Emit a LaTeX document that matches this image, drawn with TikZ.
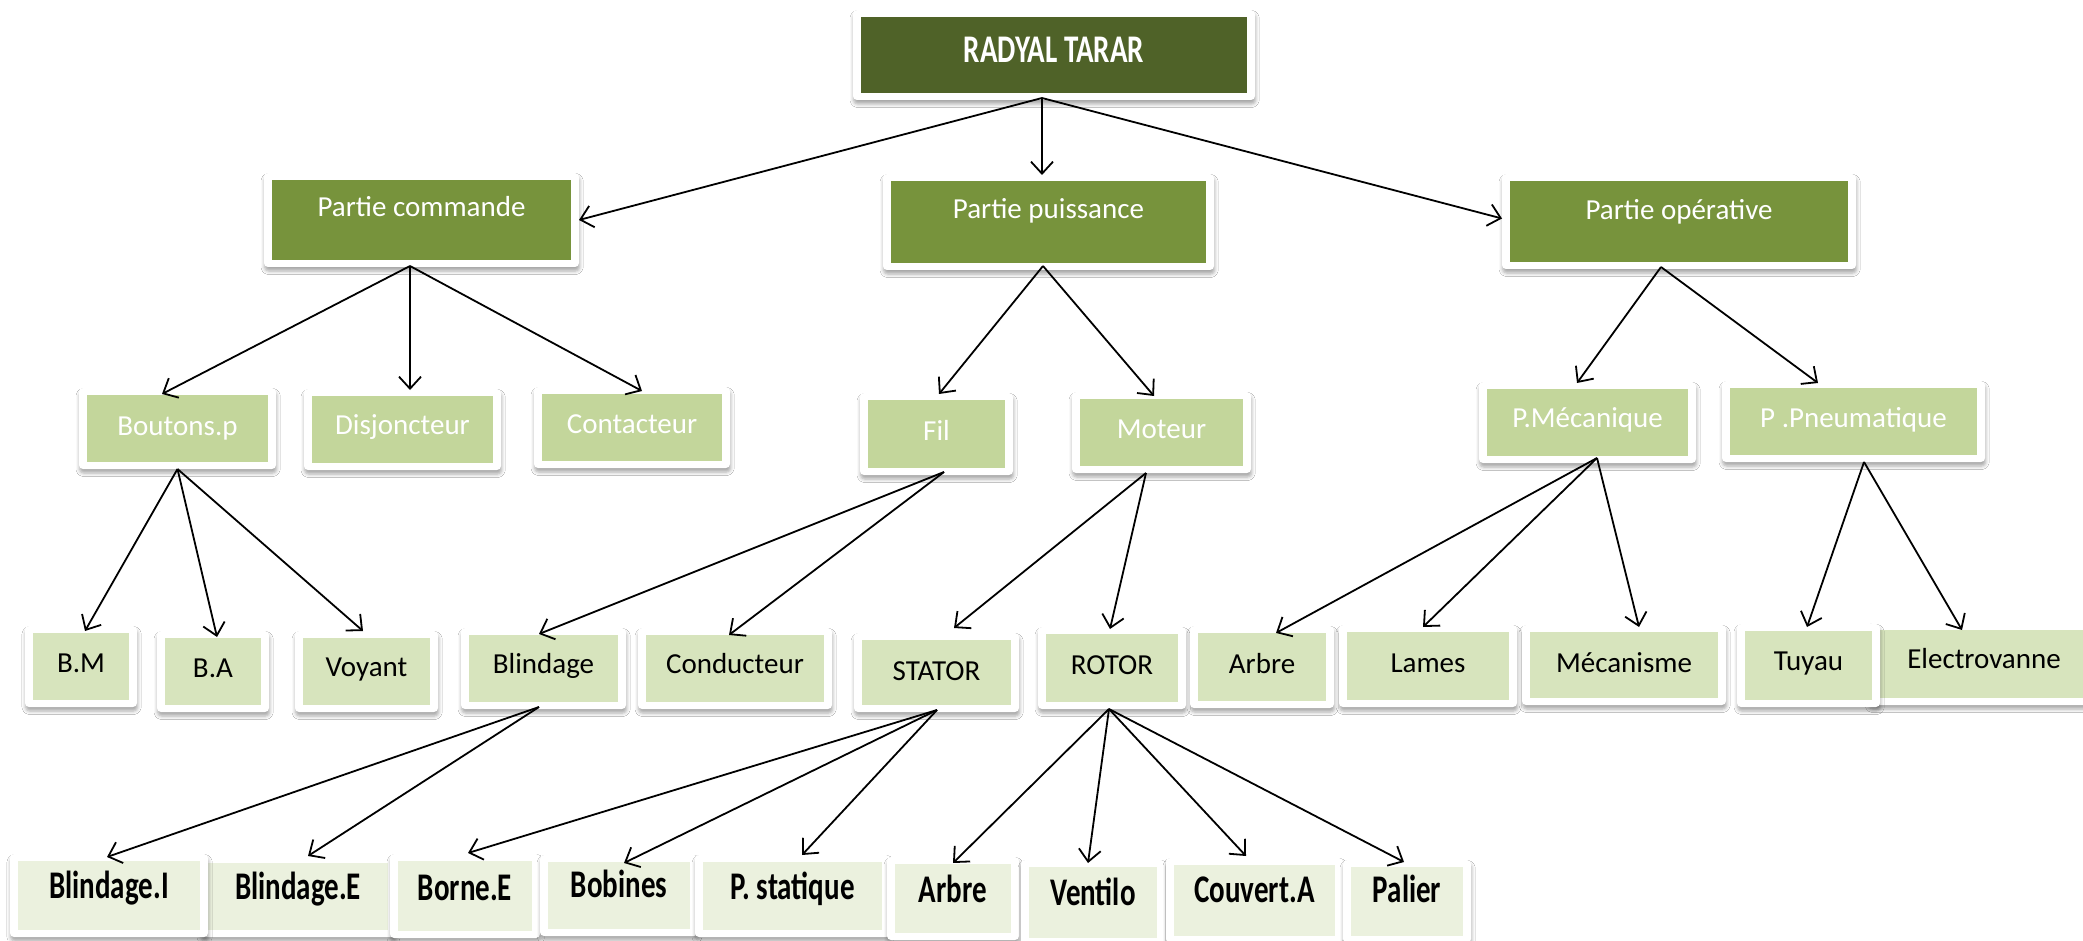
\documentclass[tikz,border=0pt]{standalone}
\usepackage{fontspec}
\setmainfont{Carlito}
\usepackage{graphicx}
\usetikzlibrary{arrows.meta,calc,shadows.blur}

\definecolor{gRoot}{HTML}{4F6228}
\definecolor{gOne}{HTML}{77933C}
\definecolor{gTwo}{HTML}{C3D69B}
\definecolor{gThree}{HTML}{D7E4BD}
\definecolor{gFour}{HTML}{EBF1DE}

% bold labels are set tall and narrow
\newcommand\tallbf[1]{\scalebox{1}[1.35]{\bfseries #1}}
\newcommand\lblfont{\fontsize{14.5}{17}\selectfont}

\tikzset{
  outerbox/.style={fill=white, rounded corners=2pt, inner sep=0pt, outer sep=0pt,
    blur shadow={shadow xshift=0.3pt, shadow yshift=-2pt, shadow blur radius=1.8pt, shadow opacity=35}},
  lvl0/.style={fill=gRoot},   lvl0 text/.style={text=white, font=\lblfont, inner sep=0pt},
  lvl1/.style={fill=gOne},    lvl1 text/.style={text=white, font=\lblfont, inner sep=0pt},
  lvl2/.style={fill=gTwo},    lvl2 text/.style={text=white, font=\lblfont, inner sep=0pt},
  lvl3/.style={fill=gThree},  lvl3 text/.style={text=black, font=\lblfont, inner sep=0pt},
  lvl4/.style={fill=gFour},   lvl4 text/.style={text=black, font=\lblfont, inner sep=0pt},
  arr/.style={-{Straight Barb[length=6pt,width=11pt]}, line width=0.9pt, black},
}

% #1 name, #2,#3 top-left corner, #4,#5 bottom-right corner, #6 level, #7 baseline, #8 label
\newcommand\gbox[8]{%
  \node[outerbox, minimum width={(#4-#2)*0.5pt}, minimum height={(#5-#3)*0.5pt}]
    (#1) at ({(#2+#4)/2},{(#3+#5)/2}) {};
  \fill[#6] ($(#1.north west)+(8,7)$) rectangle ($(#1.south east)+(-8,-7)$);
  \node[#6 text, anchor=base] at ({(#2+#4)/2},#7) {#8};
}

\begin{document}
\begin{tikzpicture}[x=0.5pt,y=-0.5pt]
\useasboundingbox (0,0) rectangle (2083,941);
\clip (0,0) rectangle (2083,941);
\fill[white] (0,0) rectangle (2083,941);

% top
\gbox{root}{853}{10}{1255}{100}{lvl0}{63}{\tallbf{RADYAL TARAR}}

% first level
\gbox{pc}{264}{173}{579}{267}{lvl1}{217}{Partie commande}
\gbox{pp}{883}{174}{1214}{270}{lvl1}{219}{Partie puissance}
\gbox{po}{1502}{174}{1856}{269}{lvl1}{220}{Partie opérative}

% second level
\gbox{bp}{79}{388}{276}{469}{lvl2}{435}{Boutons.p}
\gbox{dj}{304}{389}{501}{470}{lvl2}{434}{Disjoncteur}
\gbox{ct}{534}{387}{730}{468}{lvl2}{433}{Contacteur}
\gbox{fil}{860}{393}{1013}{475}{lvl2}{440}{Fil}
\gbox{mot}{1072}{392}{1251}{473}{lvl2}{438}{Moteur}
\gbox{pm}{1479}{382}{1696}{463}{lvl2}{427}{P.Mécanique}
\gbox{pn}{1722}{381}{1985}{462}{lvl2}{427}{P .Pneumatique}

% third level
\gbox{bm}{25}{626}{137}{707}{lvl3}{672}{B.M}
\gbox{ba}{157}{631}{269}{712}{lvl3}{677}{B.A}
\gbox{vo}{295}{631}{438}{712}{lvl3}{676}{Voyant}
\gbox{bl}{461}{628}{626}{709}{lvl3}{673}{Blindage}
\gbox{co}{638}{628}{832}{709}{lvl3}{673}{Conducteur}
\gbox{st}{854}{633}{1019}{712}{lvl3}{680}{STATOR}
\gbox{ro}{1038}{627}{1186}{709}{lvl3}{674}{ROTOR}
\gbox{arA}{1190}{626}{1334}{708}{lvl3}{673}{Arbre}
\gbox{la}{1339}{625}{1517}{707}{lvl3}{672}{Lames}
\gbox{me}{1522}{625}{1726}{705}{lvl3}{672}{Mécanisme}
\gbox{el}{1868}{623}{2100}{705}{lvl3}{668}{Electrovanne}
\gbox{tu}{1737}{624}{1880}{707}{lvl3}{670}{Tuyau}

% fourth level
\gbox{be}{200}{856}{396}{937}{lvl4}{899}{\tallbf{Blindage.E}}
\gbox{bi}{10}{854}{208}{937}{lvl4}{898}{\tallbf{Blindage.I}}
\gbox{bo}{390}{854}{540}{938}{lvl4}{900}{\tallbf{Borne.E}}
\gbox{bb}{540}{855}{698}{936}{lvl4}{897}{\tallbf{Bobines}}
\gbox{ps}{695}{855}{890}{937}{lvl4}{899}{\tallbf{P. statique}}
\gbox{arB}{887}{857}{1019}{940}{lvl4}{902}{\tallbf{Arbre}}
\gbox{ve}{1021}{860}{1165}{945}{lvl4}{905}{\tallbf{Ventilo}}
\gbox{cv}{1166}{858}{1343}{943}{lvl4}{902}{\tallbf{Couvert.A}}
\gbox{pa}{1343}{860}{1471}{943}{lvl4}{902}{\tallbf{Palier}}

% connectors
\draw[arr] ($(root.south)+(-12,-2)$) -- (pc.east);
\draw[arr] ($(root.south)+(-12,-2)$) -- ($(pp.north)+(-6.5,1)$);
\draw[arr] ($(root.south)+(-12,-2)$) -- ($(po.west)+(0,-3)$);

\draw[arr] ($(pc.south)+(-11.5,-1)$) -- ($(bp.north)+(-15.5,6)$);
\draw[arr] ($(pc.south)+(-11.5,-1)$) -- ($(dj.north)+(7.5,1)$);
\draw[arr] ($(pc.south)+(-11.5,-1)$) -- ($(ct.north)+(10,4)$);

\draw[arr] ($(pp.south)+(-5.5,-4)$) -- ($(fil.north)+(2.5,1)$);
\draw[arr] ($(pp.south)+(-5.5,-4)$) -- ($(mot.north)+(-7.5,4)$);

\draw[arr] ($(po.south)+(-18,-2)$) -- ($(pm.north)+(-10.5,1)$);
\draw[arr] ($(po.south)+(-18,-2)$) -- ($(pn.north)+(-35.5,2)$);

\draw[arr] (bp.south) -- ($(bm.north)+(4,5)$);
\draw[arr] (bp.south) -- ($(ba.north)+(4,6)$);
\draw[arr] (bp.south) -- ($(vo.north)+(-3.5,0)$);

\draw[arr] ($(fil.south)+(7.5,-3)$) -- ($(bl.north)+(-4.5,6)$);
\draw[arr] ($(fil.south)+(7.5,-3)$) -- ($(co.north)+(-6,7)$);

\draw[arr] ($(mot.south)+(-15.5,0)$) -- ($(st.north)+(17.5,-5)$);
\draw[arr] ($(mot.south)+(-15.5,0)$) -- ($(ro.north)+(-2,2)$);

\draw[arr] ($(pm.south)+(9.5,-5)$) -- ($(arA.north)+(14,7)$);
\draw[arr] ($(pm.south)+(9.5,-5)$) -- ($(la.north)+(-5,2)$);
\draw[arr] ($(pm.south)+(9.5,-5)$) -- ($(me.north)+(15,2)$);

\draw[arr] ($(pn.south)+(10.5,0)$) -- ($(tu.north)+(-1.5,3)$);
\draw[arr] ($(pn.south)+(10.5,0)$) -- ($(el.north)+(-22,7)$);

\draw[arr] ($(bl.south)+(-4.5,-2)$) -- ($(bi.north)+(-2,3)$);
\draw[arr] ($(bl.south)+(-4.5,-2)$) -- ($(be.north)+(10,0)$);

\draw[arr] ($(st.south)+(0.5,-2)$) -- ($(bo.north)+(3,-1)$);
\draw[arr] ($(st.south)+(0.5,-2)$) -- ($(bb.north)+(5,8)$);
\draw[arr] ($(st.south)+(0.5,-2)$) -- ($(ps.north)+(9.5,0)$);

\draw[arr] ($(ro.south)+(-3,0)$) -- ($(arB.north)+(0,6)$);
\draw[arr] ($(ro.south)+(-3,0)$) -- ($(ve.north)+(-5,3)$);
\draw[arr] ($(ro.south)+(-3,0)$) -- ($(cv.north)+(-8.5,-2)$);
\draw[arr] ($(ro.south)+(-3,0)$) -- ($(pa.north)+(-3,2)$);
\end{tikzpicture}
\end{document}
